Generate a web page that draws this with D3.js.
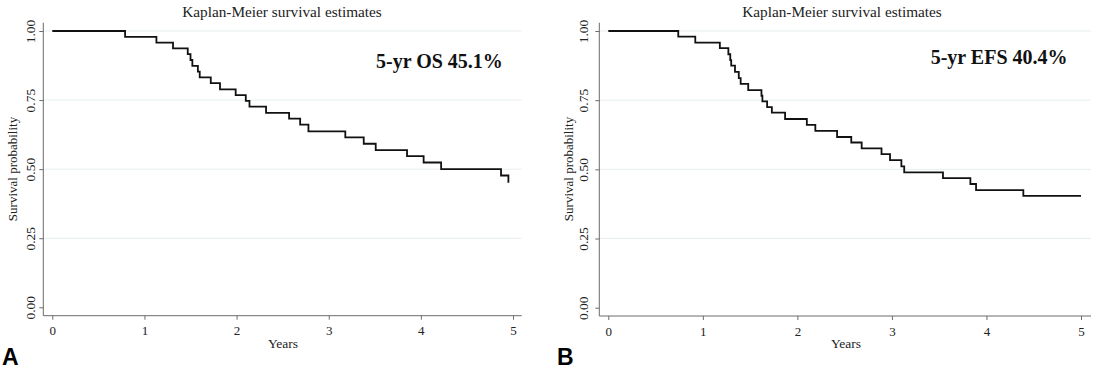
<!DOCTYPE html>
<html>
<head>
<meta charset="utf-8">
<script src="https://cdn.jsdelivr.net/npm/d3@7"></script>
<style>
  body { margin: 0; background: #fff; }
  svg { display: block; }
  .tick line { stroke: #6b6b6b; }
  .domain { stroke: #6b6b6b; }
</style>
</head>
<body>
<svg id="chart"></svg>
<script>
// ticks
const yearTicks = [0, 1, 2, 3, 4, 5]
const survTicks = [0, 0.25, 0.5, 0.75, 1]

// overall survival (panel A), time in years / survival after each drop
const osTime = [0, 0.79, 1.13, 1.31, 1.47, 1.50, 1.52, 1.58, 1.60, 1.72, 1.82, 1.99, 2.10, 2.14, 2.32, 2.57, 2.69, 2.78, 3.18, 3.38, 3.51, 3.85, 4.03, 4.22, 4.87, 4.95]
const osSurv = [1, 0.979, 0.958, 0.937, 0.916, 0.895, 0.874, 0.853, 0.832, 0.811, 0.789, 0.768, 0.747, 0.726, 0.704, 0.683, 0.661, 0.637, 0.615, 0.592, 0.569, 0.547, 0.524, 0.500, 0.477, 0.451]

// event-free survival (panel B)
const efsTime = [0, 0.74, 0.92, 1.18, 1.27, 1.29, 1.30, 1.34, 1.38, 1.40, 1.48, 1.62, 1.63, 1.68, 1.73, 1.87, 2.10, 2.19, 2.42, 2.57, 2.68, 2.89, 2.98, 3.10, 3.13, 3.54, 3.83, 3.89, 4.39, 5.0]
const efsSurv = [1, 0.980, 0.958, 0.938, 0.916, 0.895, 0.875, 0.852, 0.830, 0.809, 0.786, 0.766, 0.746, 0.725, 0.705, 0.682, 0.661, 0.639, 0.617, 0.597, 0.576, 0.555, 0.533, 0.511, 0.489, 0.468, 0.447, 0.425, 0.404, 0.404]

const W = 1098
const H = 372
const serif = 'Liberation Serif, Times New Roman, serif'

const svg = d3.select('#chart')
  .attr('width', W)
  .attr('height', H)

function drawPanel (p) {
  const x = d3.scaleLinear().domain([0, 5]).range([p.x0, p.x5])
  const y = d3.scaleLinear().domain([0, 1]).range([p.y0, p.y1])
  const g = svg.append('g')

  // grid lines
  g.selectAll('.grid')
    .data(survTicks.filter(d => d > 0))
    .join('line')
    .attr('x1', p.left)
    .attr('x2', p.right)
    .attr('y1', d => y(d))
    .attr('y2', d => y(d))
    .attr('stroke', '#e7eff0')
    .attr('stroke-width', 1)

  // y axis
  const ya = g.append('g')
    .attr('transform', `translate(${p.left},0)`)
    .call(d3.axisLeft(y).tickValues(survTicks).tickFormat(d3.format('.2f')).tickSize(4).tickSizeOuter(0))
  ya.select('.domain').attr('d', `M0,${p.top}V${p.bottom}`)
  ya.selectAll('text')
    .attr('transform', 'rotate(-90)')
    .attr('x', 0)
    .attr('y', -p.yLabOff)
    .attr('dy', 0)
    .attr('text-anchor', 'middle')
    .attr('fill', '#222')
    .style('font-family', serif)
    .style('font-size', '13.5px')

  // x axis
  const xa = g.append('g')
    .attr('transform', `translate(0,${p.bottom})`)
    .call(d3.axisBottom(x).tickValues(yearTicks).tickFormat(d3.format('d')).tickSize(4).tickSizeOuter(0))
  xa.select('.domain').attr('d', `M${p.left},0H${p.right}`)
  xa.selectAll('text')
    .attr('y', 19.5)
    .attr('dy', 0)
    .attr('fill', '#222')
    .style('font-family', serif)
    .style('font-size', '13px')

  // survival curve
  const pts = p.time.map((t, i) => [t, p.surv[i]])
  g.append('path')
    .datum(pts)
    .attr('fill', 'none')
    .attr('stroke', '#111')
    .attr('stroke-width', 1.8)
    .attr('d', d3.line().x(d => x(d[0])).y(d => y(d[1])).curve(d3.curveStepAfter))

  // titles
  g.append('text')
    .attr('x', p.titleX).attr('y', 17)
    .attr('text-anchor', 'middle')
    .style('font-family', serif).style('font-size', '15.3px')
    .attr('fill', '#222')
    .text('Kaplan-Meier survival estimates')

  g.append('text')
    .attr('x', p.xTitleX).attr('y', 348)
    .attr('text-anchor', 'middle')
    .style('font-family', serif).style('font-size', '13.5px')
    .attr('fill', '#222')
    .text('Years')

  g.append('text')
    .attr('transform', `translate(${p.yTitleX},169) rotate(-90)`)
    .attr('text-anchor', 'middle')
    .style('font-family', serif).style('font-size', '13px')
    .attr('fill', '#222')
    .text('Survival probability')

  g.append('text')
    .attr('x', p.noteX).attr('y', p.noteY)
    .style('font-family', serif).style('font-size', '20px').style('font-weight', 'bold')
    .attr('fill', '#111')
    .text(p.note)

  g.append('text')
    .attr('x', p.letterX).attr('y', 365)
    .style('font-family', 'Liberation Sans, Arial, sans-serif').style('font-size', '23px').style('font-weight', 'bold')
    .attr('fill', '#000')
    .text(p.letter)
}

drawPanel({
  time: osTime, surv: osSurv,
  x0: 52.3, x5: 513, y0: 307.3, y1: 31,
  left: 43.3, right: 521.7, top: 22.7, bottom: 315.7,
  yLabOff: 8.5, titleX: 282, xTitleX: 283, yTitleX: 17,
  note: '5-yr OS 45.1%', noteX: 376, noteY: 67.5,
  letter: 'A', letterX: 2
})

drawPanel({
  time: efsTime, surv: efsSurv,
  x0: 608.3, x5: 1081, y0: 307.7, y1: 31,
  left: 599.3, right: 1091, top: 22.7, bottom: 316,
  yLabOff: 11, titleX: 842, xTitleX: 846, yTitleX: 573,
  note: '5-yr EFS 40.4%', noteX: 930.7, noteY: 63.5,
  letter: 'B', letterX: 557
})
</script>
</body>
</html>
